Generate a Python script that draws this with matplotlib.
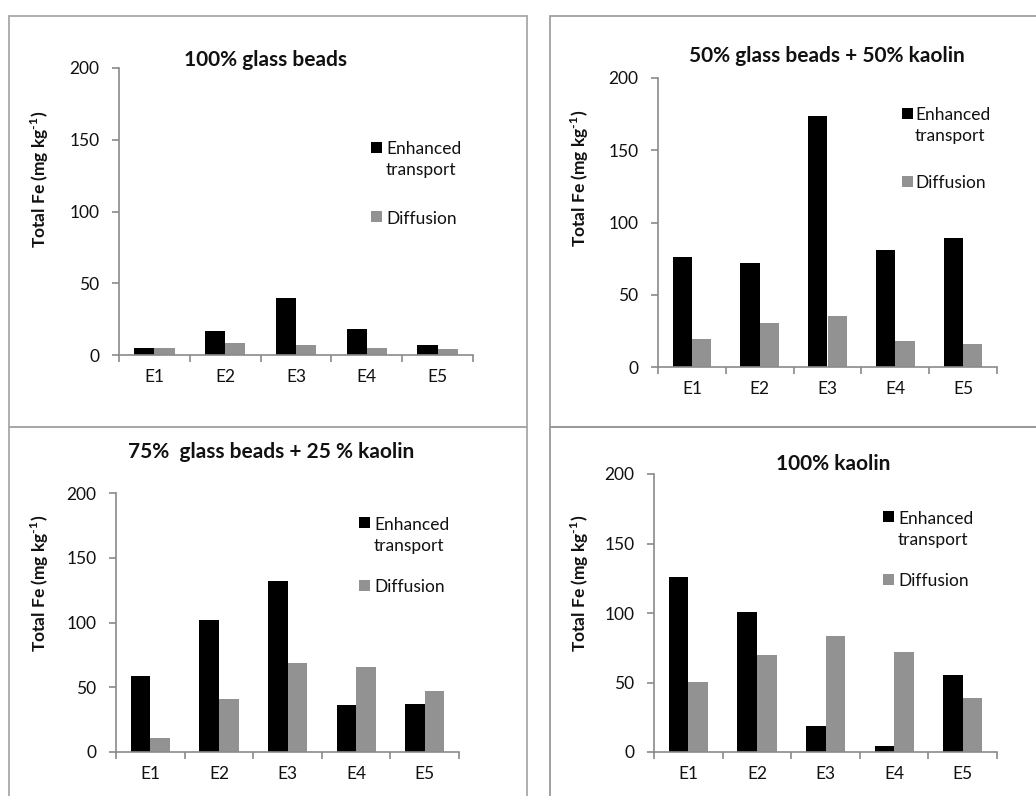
import numpy as np
import matplotlib.pyplot as plt
from matplotlib.patches import Rectangle

plt.rcParams['font.family'] = ['Lato', 'DejaVu Sans']
plt.rcParams['mathtext.fontset'] = 'custom'
plt.rcParams['mathtext.rm'] = 'Lato:bold'
plt.rcParams['mathtext.bf'] = 'Lato:bold'

# Total Fe per extraction step (mg/kg)
categories = ['E1', 'E2', 'E3', 'E4', 'E5']
series_names = ['Enhanced transport', 'Diffusion']

glass100_enhanced = [4.9, 16.5, 39.6, 18.1, 6.7]
glass100_diffusion = [4.9, 8.3, 6.7, 4.9, 4.4]

glass50_enhanced = [76.3, 71.7, 173.4, 80.9, 89.2]
glass50_diffusion = [19.7, 30.5, 35.1, 18.3, 15.7]

glass75_enhanced = [58.8, 101.9, 132.1, 36.6, 37.4]
glass75_diffusion = [10.8, 41.3, 68.9, 65.8, 47.0]

kaolin100_enhanced = [126.2, 100.6, 18.9, 4.6, 55.1]
kaolin100_diffusion = [50.1, 69.5, 83.8, 72.3, 38.8]

BLACK = '#000000'
GRAY = '#929292'
AXIS = '#8a8a8a'
TEXT = '#111111'

W, H = 1036, 796
fig = plt.figure(figsize=(W / 100, H / 100), dpi=100)


def fx(x):
    return x / W


def fy(y):
    return 1 - y / H


# layout of each chart in pixels: frame box, plot area, title, y label, legend
panels = [
    dict(title='100% glass beads', enh=glass100_enhanced, dif=glass100_diffusion,
         frame=(9, 16, 527, 427), frame_col='#a8a8a8', area=(119, 68, 473, 355),
         title_xy=(265, 58), ylab_xy=(40, 179), leg=(371, 386, 148, 169, 217)),
    dict(title='50% glass beads + 50% kaolin', enh=glass50_enhanced, dif=glass50_diffusion,
         frame=(550, 16, 1070, 427), frame_col='#a0a0a0', area=(658, 78, 997, 367),
         title_xy=(827, 54), ylab_xy=(580, 178), leg=(902, 915, 114, 135, 182)),
    dict(title='75%  glass beads + 25 % kaolin', enh=glass75_enhanced, dif=glass75_diffusion,
         frame=(9, 427, 527, 830), frame_col='#a8a8a8', area=(116, 493, 459, 752),
         title_xy=(271, 450), ylab_xy=(40, 583), leg=(359, 374, 523, 544, 586)),
    dict(title='100% kaolin', enh=kaolin100_enhanced, dif=kaolin100_diffusion,
         frame=(550, 427, 1070, 830), frame_col='#999999', area=(654, 474, 997, 752),
         title_xy=(833, 462), ylab_xy=(580, 583), leg=(883, 898, 517, 539, 580)),
]

x = np.arange(len(categories))
bw = 1 / 3.5

for p in panels:
    x0, y0, x1, y1 = p['frame']
    fig.add_artist(Rectangle((fx(x0), fy(y1)), (x1 - x0) / W, (y1 - y0) / H,
                             transform=fig.transFigure, fill=False,
                             edgecolor=p['frame_col'], linewidth=1.3))

    a0, b0, a1, b1 = p['area']
    ax = fig.add_axes([fx(a0), fy(b1), (a1 - a0) / W, (b1 - b0) / H])
    ax.bar(x - bw / 2, p['enh'], bw, color=BLACK, linewidth=0)
    ax.bar(x + bw / 2, p['dif'], bw, color=GRAY, linewidth=0)

    ax.set_xlim(-0.5, len(categories) - 0.5)
    ax.set_ylim(0, 200)
    ax.set_yticks([0, 50, 100, 150, 200])
    ax.set_xticks(x)
    ax.set_xticklabels(categories)
    ax.set_xticks(np.arange(-0.5, len(categories)), minor=True)

    for s in ['top', 'right']:
        ax.spines[s].set_visible(False)
    for s in ['left', 'bottom']:
        ax.spines[s].set_color(AXIS)
        ax.spines[s].set_linewidth(1.2)

    ax.tick_params(axis='x', which='major', length=0, pad=10, labelsize=12.5, labelcolor=TEXT)
    ax.tick_params(axis='x', which='minor', length=5, width=1.2, color=AXIS, direction='out')
    ax.tick_params(axis='y', length=5, width=1.2, color=AXIS, pad=9, labelsize=12.5, labelcolor=TEXT)

    tx, ty = p['title_xy']
    fig.text(fx(tx), fy(ty), p['title'], ha='center', va='center_baseline',
             fontsize=15, fontweight='bold', color=TEXT)

    lx, ly = p['ylab_xy']
    fig.text(fx(lx), fy(ly), r'Total Fe (mg kg$^{\text{-1}}$)', rotation=90,
             ha='center', va='center', fontsize=12.5, fontweight='bold', color=TEXT)

    # legend: square keys with wrapped label text
    sq_x, txt_x, y_enh, y_tr, y_dif = p['leg']
    sq = 11
    for yc, col in [(y_enh - 1, BLACK), (y_dif - 1, GRAY)]:
        fig.add_artist(Rectangle((fx(sq_x), fy(yc + sq / 2)), sq / W, sq / H,
                                 transform=fig.transFigure, color=col, linewidth=0))
    for ty_, label in [(y_enh, 'Enhanced'), (y_tr, 'transport'), (y_dif, 'Diffusion')]:
        fig.text(fx(txt_x), fy(ty_), label, ha='left', va='center_baseline',
                 fontsize=12.5, color=TEXT)

fig.savefig('out.png', dpi=100)
